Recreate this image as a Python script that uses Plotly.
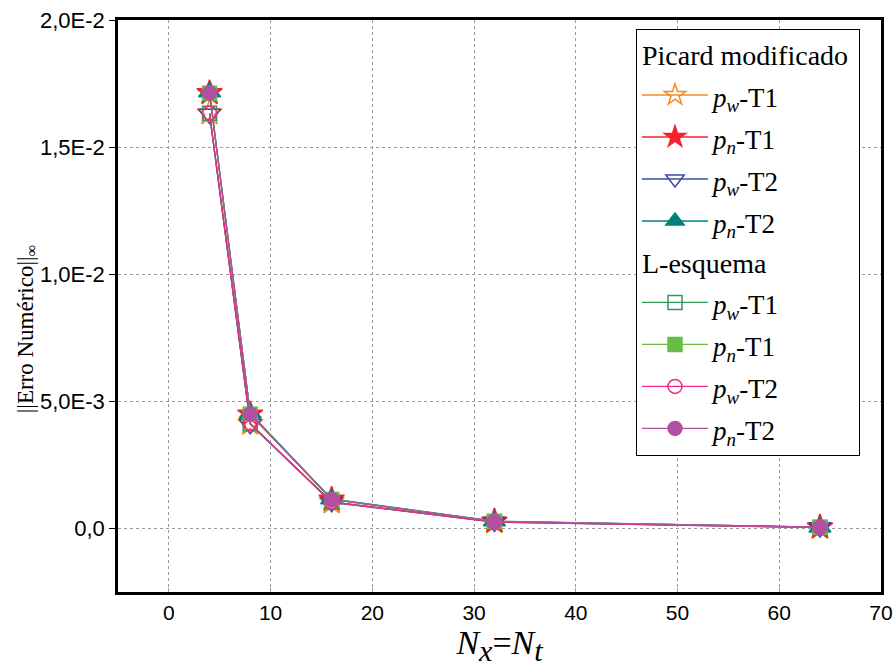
import plotly.graph_objects as go

# Malha (N_x = N_t) e erros na norma infinito
n_mesh = [4, 8, 16, 32, 64]

picard_pw_t1 = [0.01634, 0.00413, 0.00104, 0.00026, 0.00004]
picard_pn_t1 = [0.01713, 0.00449, 0.00114, 0.00028, 0.00005]
picard_pw_t2 = [0.01630, 0.00410, 0.00103, 0.00025, 0.00004]
picard_pn_t2 = [0.01717, 0.00453, 0.00116, 0.00029, 0.00005]

lesq_pw_t1 = [0.01633, 0.00412, 0.00104, 0.00026, 0.00004]
lesq_pn_t1 = [0.01712, 0.00449, 0.00114, 0.00028, 0.00005]
lesq_pw_t2 = [0.01634, 0.00413, 0.00103, 0.00025, 0.00004]
lesq_pn_t2 = [0.01713, 0.00449, 0.00114, 0.00028, 0.00005]

y_tickvals = [0.0, 0.005, 0.01, 0.015, 0.02]
y_ticktext = ["0,0", "5,0E-3", "1,0E-2", "1,5E-2", "2,0E-2"]
x_tickvals = [0, 10, 20, 30, 40, 50, 60, 70]

SERIF = "Liberation Serif, Times New Roman, serif"
SANS = "Liberation Sans, Arial, sans-serif"


def p_label(sub, case):
    return ("<span style='font-size:27px'><i>p</i><sub><i>%s</i></sub>-%s</span>"
            % (sub, case))


series = [
    # (dados, nome, grupo, título do grupo, símbolo, cor, tamanho)
    (picard_pw_t1, p_label("w", "T1"), "picard", "Picard modificado", "star-open", "#F7891F", 19),
    (picard_pn_t1, p_label("n", "T1"), "picard", None, "star", "#F5222D", 19),
    (picard_pw_t2, p_label("w", "T2"), "picard", None, "triangle-down-open", "#3B4BA8", 19),
    (picard_pn_t2, p_label("n", "T2"), "picard", None, "triangle-up", "#00827A", 19),
    (lesq_pw_t1, p_label("w", "T1"), "lesq", "L-esquema", "square-open", "#2E9A55", 14),
    (lesq_pn_t1, p_label("n", "T1"), "lesq", None, "square", "#67BD45", 14),
    (lesq_pw_t2, p_label("w", "T2"), "lesq", None, "circle-open", "#F22A86", 14),
    (lesq_pn_t2, p_label("n", "T2"), "lesq", None, "circle", "#B34FA3", 14),
]

fig = go.Figure()
for ys, name, grp, gtitle, sym, col, sz in series:
    tr = go.Scatter(
        x=n_mesh, y=ys, name=name, mode="lines+markers",
        legendgroup=grp,
        line=dict(color=col, width=1.3),
        marker=dict(symbol=sym, size=sz, color=col,
                    line=dict(color=col, width=1.5)),
    )
    if gtitle:
        tr.legendgrouptitle = dict(text=gtitle,
                                   font=dict(family=SERIF, size=28, color="black"))
    fig.add_trace(tr)

axis_common = dict(
    showline=True, linecolor="black", linewidth=2.5, mirror=True,
    showgrid=True, gridcolor="#9a9a9a", griddash="dot", gridwidth=1,
    zeroline=False, automargin=False,
)

fig.update_xaxes(
    range=[-5, 70], tickvals=x_tickvals, ticks="inside", ticklen=4,
    tickcolor="#9a9a9a",
    tickfont=dict(family=SANS, size=21, color="black"),
    title=dict(text="<i>N</i><sub><i><span style='font-size:30px'>x</span></i></sub>=<i>N</i><sub><i><span style='font-size:30px'>t</span></i></sub>",
               font=dict(family=SERIF, size=34, color="black"),
               standoff=8),
    **axis_common,
)
fig.update_yaxes(
    range=[-0.0025, 0.02], tickvals=y_tickvals, ticktext=y_ticktext,
    ticks="outside", ticklen=6, tickcolor="black",
    tickfont=dict(family=SANS, size=22, color="black"),
    **axis_common,
)

# Título do eixo y como anotação rotacionada
fig.add_annotation(
    text="||Erro Numérico||<sub>∞</sub>",
    xref="paper", yref="paper", x=-0.12, y=0.46,
    xanchor="center", yanchor="middle", textangle=-90, showarrow=False,
    font=dict(family=SERIF, size=23, color="black"),
)

fig.update_layout(
    width=896, height=668,
    margin=dict(l=118, r=15, t=20, b=76),
    paper_bgcolor="white", plot_bgcolor="white",
    showlegend=True,
    legend=dict(
        x=0.9725, y=0.985, xanchor="right", yanchor="top",
        bgcolor="white", bordercolor="black", borderwidth=1,
        font=dict(family=SERIF, size=30, color="black"),
        traceorder="grouped", tracegroupgap=0, itemwidth=66,
    ),
)

fig.write_html("out.html")
